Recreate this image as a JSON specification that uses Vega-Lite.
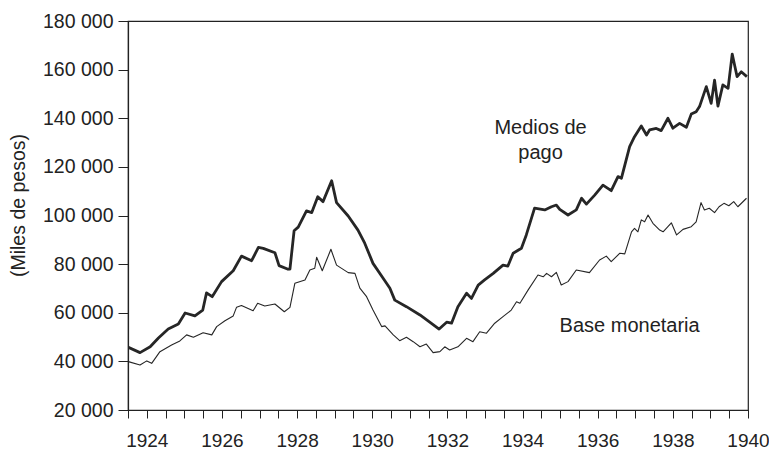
{
  "$schema": "https://vega.github.io/schema/vega-lite/v6.json",
  "width": 620,
  "height": 389,
  "autosize": {"type": "none"},
  "padding": {"left": 128, "top": 21, "right": 21, "bottom": 45},
  "background": "white",
  "config": {
    "view": {"stroke": "#222", "strokeWidth": 1.2},
    "font": "Liberation Sans",
    "axis": {"domainColor": "#222", "domainWidth": 1.2, "tickColor": "#222", "tickWidth": 1, "labelColor": "#222", "titleColor": "#222", "grid": false, "labelFont": "Liberation Sans", "titleFont": "Liberation Sans"}
  },
  "datasets": {
    "lines": [
      {"serie": "Medios de pago", "year": 1923.51, "value": 45800},
      {"serie": "Medios de pago", "year": 1923.82, "value": 43600},
      {"serie": "Medios de pago", "year": 1924.09, "value": 46000},
      {"serie": "Medios de pago", "year": 1924.31, "value": 49600},
      {"serie": "Medios de pago", "year": 1924.57, "value": 53300},
      {"serie": "Medios de pago", "year": 1924.84, "value": 55400},
      {"serie": "Medios de pago", "year": 1925.02, "value": 59900},
      {"serie": "Medios de pago", "year": 1925.28, "value": 58700},
      {"serie": "Medios de pago", "year": 1925.49, "value": 61100},
      {"serie": "Medios de pago", "year": 1925.59, "value": 68200},
      {"serie": "Medios de pago", "year": 1925.74, "value": 66600},
      {"serie": "Medios de pago", "year": 1925.99, "value": 72800},
      {"serie": "Medios de pago", "year": 1926.3, "value": 77300},
      {"serie": "Medios de pago", "year": 1926.52, "value": 83300},
      {"serie": "Medios de pago", "year": 1926.79, "value": 81400},
      {"serie": "Medios de pago", "year": 1926.97, "value": 86900},
      {"serie": "Medios de pago", "year": 1927.1, "value": 86500},
      {"serie": "Medios de pago", "year": 1927.41, "value": 84700},
      {"serie": "Medios de pago", "year": 1927.52, "value": 79400},
      {"serie": "Medios de pago", "year": 1927.76, "value": 77900},
      {"serie": "Medios de pago", "year": 1927.81, "value": 78000},
      {"serie": "Medios de pago", "year": 1927.92, "value": 93700},
      {"serie": "Medios de pago", "year": 1928.03, "value": 95200},
      {"serie": "Medios de pago", "year": 1928.25, "value": 101900},
      {"serie": "Medios de pago", "year": 1928.39, "value": 101200},
      {"serie": "Medios de pago", "year": 1928.55, "value": 107700},
      {"serie": "Medios de pago", "year": 1928.69, "value": 105700},
      {"serie": "Medios de pago", "year": 1928.92, "value": 114300},
      {"serie": "Medios de pago", "year": 1929.05, "value": 105300},
      {"serie": "Medios de pago", "year": 1929.36, "value": 99800},
      {"serie": "Medios de pago", "year": 1929.62, "value": 94000},
      {"serie": "Medios de pago", "year": 1929.8, "value": 88600},
      {"serie": "Medios de pago", "year": 1930.02, "value": 80300},
      {"serie": "Medios de pago", "year": 1930.29, "value": 74200},
      {"serie": "Medios de pago", "year": 1930.47, "value": 70100},
      {"serie": "Medios de pago", "year": 1930.6, "value": 65200},
      {"serie": "Medios de pago", "year": 1930.91, "value": 62500},
      {"serie": "Medios de pago", "year": 1931.27, "value": 59100},
      {"serie": "Medios de pago", "year": 1931.53, "value": 56100},
      {"serie": "Medios de pago", "year": 1931.78, "value": 53300},
      {"serie": "Medios de pago", "year": 1931.98, "value": 56100},
      {"serie": "Medios de pago", "year": 1932.11, "value": 55700},
      {"serie": "Medios de pago", "year": 1932.28, "value": 62500},
      {"serie": "Medios de pago", "year": 1932.51, "value": 68000},
      {"serie": "Medios de pago", "year": 1932.64, "value": 65900},
      {"serie": "Medios de pago", "year": 1932.82, "value": 71400},
      {"serie": "Medios de pago", "year": 1932.99, "value": 73500},
      {"serie": "Medios de pago", "year": 1933.22, "value": 76200},
      {"serie": "Medios de pago", "year": 1933.48, "value": 79600},
      {"serie": "Medios de pago", "year": 1933.61, "value": 79200},
      {"serie": "Medios de pago", "year": 1933.75, "value": 84500},
      {"serie": "Medios de pago", "year": 1933.97, "value": 86500},
      {"serie": "Medios de pago", "year": 1934.1, "value": 92000},
      {"serie": "Medios de pago", "year": 1934.32, "value": 103000},
      {"serie": "Medios de pago", "year": 1934.59, "value": 102300},
      {"serie": "Medios de pago", "year": 1934.77, "value": 103600},
      {"serie": "Medios de pago", "year": 1934.9, "value": 104300},
      {"serie": "Medios de pago", "year": 1934.99, "value": 102500},
      {"serie": "Medios de pago", "year": 1935.21, "value": 100200},
      {"serie": "Medios de pago", "year": 1935.43, "value": 102300},
      {"serie": "Medios de pago", "year": 1935.57, "value": 107100},
      {"serie": "Medios de pago", "year": 1935.7, "value": 104700},
      {"serie": "Medios de pago", "year": 1935.92, "value": 108400},
      {"serie": "Medios de pago", "year": 1936.14, "value": 112500},
      {"serie": "Medios de pago", "year": 1936.36, "value": 110200},
      {"serie": "Medios de pago", "year": 1936.54, "value": 116000},
      {"serie": "Medios de pago", "year": 1936.63, "value": 115300},
      {"serie": "Medios de pago", "year": 1936.85, "value": 128300},
      {"serie": "Medios de pago", "year": 1936.98, "value": 132400},
      {"serie": "Medios de pago", "year": 1937.16, "value": 136800},
      {"serie": "Medios de pago", "year": 1937.3, "value": 133100},
      {"serie": "Medios de pago", "year": 1937.38, "value": 135200},
      {"serie": "Medios de pago", "year": 1937.56, "value": 135800},
      {"serie": "Medios de pago", "year": 1937.69, "value": 134900},
      {"serie": "Medios de pago", "year": 1937.87, "value": 140000},
      {"serie": "Medios de pago", "year": 1938.0, "value": 135900},
      {"serie": "Medios de pago", "year": 1938.18, "value": 137900},
      {"serie": "Medios de pago", "year": 1938.36, "value": 136300},
      {"serie": "Medios de pago", "year": 1938.49, "value": 141700},
      {"serie": "Medios de pago", "year": 1938.62, "value": 142700},
      {"serie": "Medios de pago", "year": 1938.71, "value": 144800},
      {"serie": "Medios de pago", "year": 1938.89, "value": 153000},
      {"serie": "Medios de pago", "year": 1939.02, "value": 146100},
      {"serie": "Medios de pago", "year": 1939.11, "value": 155700},
      {"serie": "Medios de pago", "year": 1939.2, "value": 145000},
      {"serie": "Medios de pago", "year": 1939.33, "value": 153700},
      {"serie": "Medios de pago", "year": 1939.47, "value": 152300},
      {"serie": "Medios de pago", "year": 1939.58, "value": 166400},
      {"serie": "Medios de pago", "year": 1939.71, "value": 157100},
      {"serie": "Medios de pago", "year": 1939.82, "value": 159100},
      {"serie": "Medios de pago", "year": 1939.97, "value": 157100},
      {"serie": "Base monetaria", "year": 1923.51, "value": 39900},
      {"serie": "Base monetaria", "year": 1923.82, "value": 38500},
      {"serie": "Base monetaria", "year": 1924.0, "value": 40200},
      {"serie": "Base monetaria", "year": 1924.13, "value": 39200},
      {"serie": "Base monetaria", "year": 1924.35, "value": 44000},
      {"serie": "Base monetaria", "year": 1924.66, "value": 46700},
      {"serie": "Base monetaria", "year": 1924.88, "value": 48400},
      {"serie": "Base monetaria", "year": 1925.06, "value": 50900},
      {"serie": "Base monetaria", "year": 1925.24, "value": 49900},
      {"serie": "Base monetaria", "year": 1925.5, "value": 51800},
      {"serie": "Base monetaria", "year": 1925.73, "value": 50900},
      {"serie": "Base monetaria", "year": 1925.86, "value": 54300},
      {"serie": "Base monetaria", "year": 1926.08, "value": 56700},
      {"serie": "Base monetaria", "year": 1926.3, "value": 58700},
      {"serie": "Base monetaria", "year": 1926.39, "value": 62300},
      {"serie": "Base monetaria", "year": 1926.52, "value": 63000},
      {"serie": "Base monetaria", "year": 1926.83, "value": 60800},
      {"serie": "Base monetaria", "year": 1926.95, "value": 63900},
      {"serie": "Base monetaria", "year": 1927.14, "value": 62800},
      {"serie": "Base monetaria", "year": 1927.41, "value": 63600},
      {"serie": "Base monetaria", "year": 1927.66, "value": 60400},
      {"serie": "Base monetaria", "year": 1927.81, "value": 62200},
      {"serie": "Base monetaria", "year": 1927.94, "value": 72100},
      {"serie": "Base monetaria", "year": 1928.21, "value": 73500},
      {"serie": "Base monetaria", "year": 1928.34, "value": 77600},
      {"serie": "Base monetaria", "year": 1928.47, "value": 78300},
      {"serie": "Base monetaria", "year": 1928.52, "value": 82800},
      {"serie": "Base monetaria", "year": 1928.67, "value": 77300},
      {"serie": "Base monetaria", "year": 1928.9, "value": 86100},
      {"serie": "Base monetaria", "year": 1929.05, "value": 79600},
      {"serie": "Base monetaria", "year": 1929.36, "value": 76500},
      {"serie": "Base monetaria", "year": 1929.54, "value": 76200},
      {"serie": "Base monetaria", "year": 1929.67, "value": 70100},
      {"serie": "Base monetaria", "year": 1929.85, "value": 66600},
      {"serie": "Base monetaria", "year": 1930.02, "value": 61100},
      {"serie": "Base monetaria", "year": 1930.25, "value": 54300},
      {"serie": "Base monetaria", "year": 1930.34, "value": 54600},
      {"serie": "Base monetaria", "year": 1930.56, "value": 50900},
      {"serie": "Base monetaria", "year": 1930.73, "value": 48500},
      {"serie": "Base monetaria", "year": 1930.91, "value": 49900},
      {"serie": "Base monetaria", "year": 1931.09, "value": 48100},
      {"serie": "Base monetaria", "year": 1931.27, "value": 46000},
      {"serie": "Base monetaria", "year": 1931.44, "value": 47100},
      {"serie": "Base monetaria", "year": 1931.62, "value": 43600},
      {"serie": "Base monetaria", "year": 1931.8, "value": 44000},
      {"serie": "Base monetaria", "year": 1931.93, "value": 46000},
      {"serie": "Base monetaria", "year": 1932.06, "value": 44700},
      {"serie": "Base monetaria", "year": 1932.28, "value": 46000},
      {"serie": "Base monetaria", "year": 1932.51, "value": 49500},
      {"serie": "Base monetaria", "year": 1932.68, "value": 48100},
      {"serie": "Base monetaria", "year": 1932.86, "value": 52200},
      {"serie": "Base monetaria", "year": 1933.04, "value": 51600},
      {"serie": "Base monetaria", "year": 1933.26, "value": 55700},
      {"serie": "Base monetaria", "year": 1933.48, "value": 58400},
      {"serie": "Base monetaria", "year": 1933.7, "value": 61100},
      {"serie": "Base monetaria", "year": 1933.84, "value": 64500},
      {"serie": "Base monetaria", "year": 1933.93, "value": 63900},
      {"serie": "Base monetaria", "year": 1934.15, "value": 69400},
      {"serie": "Base monetaria", "year": 1934.41, "value": 75500},
      {"serie": "Base monetaria", "year": 1934.55, "value": 74800},
      {"serie": "Base monetaria", "year": 1934.64, "value": 76200},
      {"serie": "Base monetaria", "year": 1934.77, "value": 74800},
      {"serie": "Base monetaria", "year": 1934.9, "value": 76600},
      {"serie": "Base monetaria", "year": 1935.03, "value": 71400},
      {"serie": "Base monetaria", "year": 1935.21, "value": 72800},
      {"serie": "Base monetaria", "year": 1935.43, "value": 77600},
      {"serie": "Base monetaria", "year": 1935.78, "value": 76500},
      {"serie": "Base monetaria", "year": 1936.05, "value": 81700},
      {"serie": "Base monetaria", "year": 1936.23, "value": 83300},
      {"serie": "Base monetaria", "year": 1936.36, "value": 81000},
      {"serie": "Base monetaria", "year": 1936.59, "value": 84500},
      {"serie": "Base monetaria", "year": 1936.72, "value": 84200},
      {"serie": "Base monetaria", "year": 1936.9, "value": 93300},
      {"serie": "Base monetaria", "year": 1936.98, "value": 94700},
      {"serie": "Base monetaria", "year": 1937.07, "value": 93300},
      {"serie": "Base monetaria", "year": 1937.16, "value": 98200},
      {"serie": "Base monetaria", "year": 1937.25, "value": 97400},
      {"serie": "Base monetaria", "year": 1937.34, "value": 100200},
      {"serie": "Base monetaria", "year": 1937.47, "value": 96800},
      {"serie": "Base monetaria", "year": 1937.65, "value": 94000},
      {"serie": "Base monetaria", "year": 1937.74, "value": 93300},
      {"serie": "Base monetaria", "year": 1937.96, "value": 97000},
      {"serie": "Base monetaria", "year": 1938.1, "value": 92000},
      {"serie": "Base monetaria", "year": 1938.27, "value": 94300},
      {"serie": "Base monetaria", "year": 1938.49, "value": 95400},
      {"serie": "Base monetaria", "year": 1938.62, "value": 97400},
      {"serie": "Base monetaria", "year": 1938.75, "value": 105300},
      {"serie": "Base monetaria", "year": 1938.84, "value": 102300},
      {"serie": "Base monetaria", "year": 1938.97, "value": 103000},
      {"serie": "Base monetaria", "year": 1939.11, "value": 101200},
      {"serie": "Base monetaria", "year": 1939.23, "value": 103600},
      {"serie": "Base monetaria", "year": 1939.36, "value": 105000},
      {"serie": "Base monetaria", "year": 1939.49, "value": 104000},
      {"serie": "Base monetaria", "year": 1939.62, "value": 105700},
      {"serie": "Base monetaria", "year": 1939.73, "value": 103600},
      {"serie": "Base monetaria", "year": 1939.96, "value": 107100}
    ],
    "labels": [
      {"text": "Medios de", "year": 1934.48, "value": 136000},
      {"text": "pago", "year": 1934.48, "value": 125800},
      {"text": "Base monetaria", "year": 1936.85, "value": 54600}
    ]
  },
  "layer": [
    {
      "data": {"name": "lines"},
      "mark": {"type": "line", "color": "#262626", "strokeJoin": "round", "clip": true},
      "encoding": {
        "x": {
          "field": "year", "type": "quantitative",
          "scale": {"domain": [1923.5, 1940], "nice": false, "zero": false},
          "axis": {
            "title": null,
            "values": [1923.5, 1924, 1924.5, 1925, 1925.5, 1926, 1926.5, 1927, 1927.5, 1928, 1928.5, 1929, 1929.5, 1930, 1930.5, 1931, 1931.5, 1932, 1932.5, 1933, 1933.5, 1934, 1934.5, 1935, 1935.5, 1936, 1936.5, 1937, 1937.5, 1938, 1938.5, 1939, 1939.5, 1940],
            "tickCount": 60,
            "labelExpr": "datum.value % 2 === 0 ? '' + datum.value : ''",
            "tickSize": 8,
            "labelPadding": 13,
            "labelFontSize": 19,
            "labelOverlap": false,
            "labelFlush": false
          }
        },
        "y": {
          "field": "value", "type": "quantitative",
          "scale": {"domain": [20000, 180000], "nice": false, "zero": false},
          "axis": {
            "title": "(Miles de pesos)",
            "values": [20000, 40000, 60000, 80000, 100000, 120000, 140000, 160000, 180000],
            "tickCount": 20,
            "labelExpr": "replace(format(datum.value, ',d'), ',', ' ')",
            "tickSize": 10,
            "labelPadding": 5,
            "labelFontSize": 19.5,
            "titleFontSize": 19.5,
            "titleFontWeight": "normal",
            "titleAngle": -90,
            "titleX": -100,
            "titleY": 184,
            "titleAlign": "center",
            "titleBaseline": "bottom"
          }
        },
        "detail": {"field": "serie"},
        "strokeWidth": {
          "field": "serie", "type": "nominal",
          "scale": {"domain": ["Medios de pago", "Base monetaria"], "range": [2.8, 1.1]},
          "legend": null
        }
      }
    },
    {
      "data": {"name": "labels"},
      "mark": {"type": "text", "font": "Liberation Sans", "fontSize": 20, "color": "#222", "align": "center", "baseline": "middle"},
      "encoding": {
        "x": {"field": "year", "type": "quantitative"},
        "y": {"field": "value", "type": "quantitative"},
        "text": {"field": "text"}
      }
    }
  ]
}
